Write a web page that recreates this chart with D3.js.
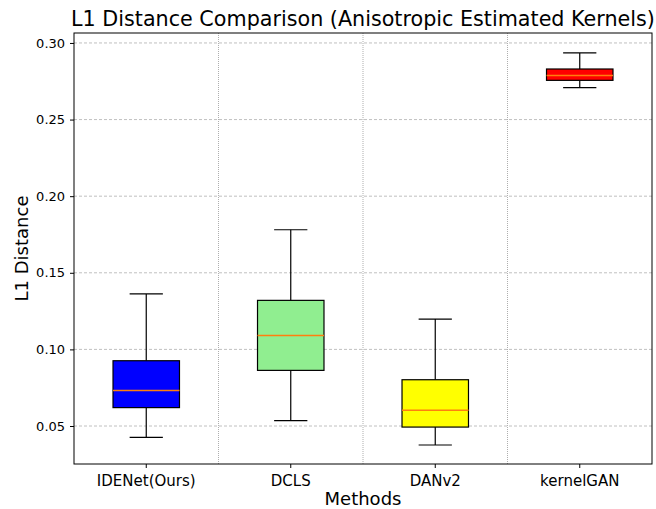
<!DOCTYPE html>
<html>
<head>
<meta charset="utf-8">
<script src="https://cdn.jsdelivr.net/npm/d3@7"></script>
<style>
  body { margin: 0; background: #fff; }
  text { font-family: "DejaVu Sans", sans-serif; }
</style>
</head>
<body>
<svg id="svg" width="656" height="509"></svg>
<script>
// box statistics
const methods = ["IDENet(Ours)", "DCLS", "DANv2", "kernelGAN"];
const whiskerLow = [0.0426, 0.0535, 0.0376, 0.2708];
const q1 = [0.0620, 0.0863, 0.0493, 0.2756];
const median = [0.0731, 0.1090, 0.0602, 0.2787];
const q3 = [0.0926, 0.1320, 0.0802, 0.2830];
const whiskerHigh = [0.1362, 0.1781, 0.1198, 0.2935];
const fills = ["#0000ff", "#90ee90", "#ffff00", "#ff0000"];
const yTicks = [0.05, 0.10, 0.15, 0.20, 0.25, 0.30];

const margin = {top: 33, right: 4, bottom: 45, left: 74};
const width = 656, height = 509;

const svg = d3.select("#svg");

const x = d3.scaleBand()
    .domain(methods)
    .range([margin.left, width - margin.right]);

const y = d3.scaleLinear()
    .domain([0.0252, 0.3065])
    .range([height - margin.bottom, margin.top]);

// horizontal grid
svg.append("g")
    .selectAll("line")
    .data(yTicks)
    .join("line")
    .attr("x1", margin.left)
    .attr("x2", width - margin.right)
    .attr("y1", d => y(d))
    .attr("y2", d => y(d))
    .attr("stroke", "#b0b0b0")
    .attr("stroke-width", 0.8)
    .attr("stroke-dasharray", "3,2");

// vertical separators between methods
svg.append("g")
    .selectAll("line")
    .data(methods.slice(1))
    .join("line")
    .attr("x1", d => x(d))
    .attr("x2", d => x(d))
    .attr("y1", margin.top)
    .attr("y2", height - margin.bottom)
    .attr("stroke", "#999")
    .attr("stroke-width", 0.8)
    .attr("stroke-dasharray", "1,1");

const boxW = x.bandwidth() * 0.46;
const capW = boxW / 2;

const g = svg.append("g")
    .selectAll("g")
    .data(methods)
    .join("g")
    .attr("transform", d => `translate(${x(d) + x.bandwidth() / 2},0)`);

// whiskers
g.append("line")
    .attr("y1", (d, i) => y(whiskerLow[i]))
    .attr("y2", (d, i) => y(q1[i]))
    .attr("stroke", "#000").attr("stroke-width", 1.2);
g.append("line")
    .attr("y1", (d, i) => y(q3[i]))
    .attr("y2", (d, i) => y(whiskerHigh[i]))
    .attr("stroke", "#000").attr("stroke-width", 1.2);
g.append("line")
    .attr("x1", -capW / 2).attr("x2", capW / 2)
    .attr("y1", (d, i) => y(whiskerLow[i]))
    .attr("y2", (d, i) => y(whiskerLow[i]))
    .attr("stroke", "#000").attr("stroke-width", 1.2);
g.append("line")
    .attr("x1", -capW / 2).attr("x2", capW / 2)
    .attr("y1", (d, i) => y(whiskerHigh[i]))
    .attr("y2", (d, i) => y(whiskerHigh[i]))
    .attr("stroke", "#000").attr("stroke-width", 1.2);

// boxes
g.append("rect")
    .attr("x", -boxW / 2)
    .attr("width", boxW)
    .attr("y", (d, i) => y(q3[i]))
    .attr("height", (d, i) => y(q1[i]) - y(q3[i]))
    .attr("fill", (d, i) => fills[i])
    .attr("stroke", "#000")
    .attr("stroke-width", 1.2);

// medians
g.append("line")
    .attr("x1", -boxW / 2).attr("x2", boxW / 2)
    .attr("y1", (d, i) => y(median[i]))
    .attr("y2", (d, i) => y(median[i]))
    .attr("stroke", "#ff7f0e").attr("stroke-width", 1.5);

// axes
const xAxis = svg.append("g")
    .attr("transform", `translate(0,${height - margin.bottom})`)
    .call(d3.axisBottom(x).tickSize(4).tickSizeOuter(0));
const yAxis = svg.append("g")
    .attr("transform", `translate(${margin.left},0)`)
    .call(d3.axisLeft(y).tickValues(yTicks).tickFormat(d3.format(".2f")).tickSize(4).tickSizeOuter(0));

[xAxis, yAxis].forEach(a => {
    a.select(".domain").remove();
    a.attr("font-family", null).attr("font-size", null);
    a.selectAll(".tick line").attr("stroke", "#000");
    a.selectAll("text").attr("fill", "#000");
});
xAxis.selectAll("text").style("font-size", "15px").attr("dy", "1.0em");
yAxis.selectAll("text").style("font-size", "13px").attr("dx", "-0.15em");

// frame
svg.append("rect")
    .attr("x", margin.left)
    .attr("y", margin.top)
    .attr("width", width - margin.right - margin.left)
    .attr("height", height - margin.bottom - margin.top)
    .attr("fill", "none")
    .attr("stroke", "#000")
    .attr("stroke-width", 1);

// labels
svg.append("text")
    .attr("x", (margin.left + width - margin.right) / 2)
    .attr("y", 26)
    .attr("text-anchor", "middle")
    .style("font-size", "20.7px")
    .text("L1 Distance Comparison (Anisotropic Estimated Kernels)");

svg.append("text")
    .attr("x", (margin.left + width - margin.right) / 2)
    .attr("y", 505)
    .attr("text-anchor", "middle")
    .style("font-size", "18px")
    .text("Methods");

svg.append("text")
    .attr("transform", `translate(28,${(margin.top + height - margin.bottom) / 2}) rotate(-90)`)
    .attr("text-anchor", "middle")
    .style("font-size", "18px")
    .text("L1 Distance");
</script>
</body>
</html>
